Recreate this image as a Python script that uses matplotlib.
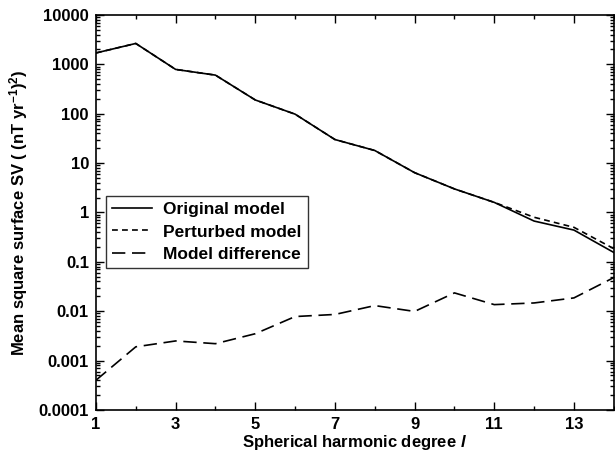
import matplotlib
matplotlib.use('Agg')
import matplotlib.pyplot as plt
from matplotlib.ticker import LogLocator, FixedLocator, NullFormatter

plt.rcParams['font.family'] = ['Liberation Sans', 'DejaVu Sans']
plt.rcParams['font.weight'] = 'bold'
plt.rcParams['mathtext.fontset'] = 'custom'
plt.rcParams['mathtext.rm'] = 'Liberation Sans:bold'
plt.rcParams['mathtext.bf'] = 'Liberation Sans:bold'
plt.rcParams['mathtext.it'] = 'Liberation Sans:italic:bold'
plt.rcParams['mathtext.default'] = 'bf'

# spherical harmonic degree
degree = [1, 2, 3, 4, 5, 6, 7, 8, 9, 10, 11, 12, 13, 14]
# mean square surface SV values
original = [1700, 2650, 790, 605, 190, 98, 30, 18, 6.4, 3.0, 1.6, 0.67, 0.44, 0.155]
perturbed = [1700, 2650, 790, 605, 190, 98, 30, 18, 6.4, 3.0, 1.6, 0.80, 0.50, 0.185]
difference = [0.0004, 0.0019, 0.0025, 0.0022, 0.0035, 0.0078, 0.0086, 0.013,
              0.0099, 0.0235, 0.0136, 0.0147, 0.0186, 0.048]

labels = ['Original model', 'Perturbed model', 'Model difference']

fig = plt.figure(figsize=(6.15, 4.54), dpi=100)
ax = fig.add_axes([0.156, 0.097, 0.842, 0.870])

ax.plot(degree, original, color='k', lw=1.2, ls='-', label=labels[0])
ax.plot(degree, perturbed, color='k', lw=1.2, ls=(0, (3.5, 2.5)), label=labels[1])
ax.plot(degree, difference, color='k', lw=1.2, ls=(0, (8, 4)), label=labels[2])

ax.set_yscale('log')
ax.set_xlim(1, 14)
ax.set_ylim(0.0001, 10000)

ax.xaxis.set_major_locator(FixedLocator([1, 3, 5, 7, 9, 11, 13]))
ax.xaxis.set_minor_locator(FixedLocator([2, 4, 6, 8, 10, 12, 14]))
ax.yaxis.set_major_locator(LogLocator(base=10, numticks=20))
ax.yaxis.set_minor_locator(LogLocator(base=10, subs=range(2, 10), numticks=100))
ax.yaxis.set_minor_formatter(NullFormatter())
ytick_vals = [0.0001, 0.001, 0.01, 0.1, 1, 10, 100, 1000, 10000]
ytick_text = ['0.0001', '0.001', '0.01', '0.1', '1', '10', '100', '1000', '10000']
ax.set_yticks(ytick_vals)
ax.set_yticklabels(ytick_text)

ax.tick_params(which='both', direction='in', top=True, right=True,
               labelsize=12, width=1)
ax.tick_params(which='major', length=6, pad=5)
ax.tick_params(which='minor', length=3)
for s in ax.spines.values():
    s.set_linewidth(1.2)

ax.set_xlabel(r'Spherical harmonic degree $\mathit{l}$', fontsize=12,
              fontweight='bold', labelpad=1)
ax.set_ylabel(r'Mean square surface SV ( (nT yr$^{-1}$)$^{2}$)', fontsize=12,
              fontweight='bold', labelpad=6)

leg = ax.legend(loc='upper left', bbox_to_anchor=(0.019, 0.542), fontsize=12.5,
                frameon=True, fancybox=False, edgecolor='k', handlelength=2.3,
                borderpad=0.35, labelspacing=0.42, handletextpad=0.65,
                borderaxespad=0)
leg.get_frame().set_linewidth(1.0)

fig.savefig('out.png', dpi=100)
